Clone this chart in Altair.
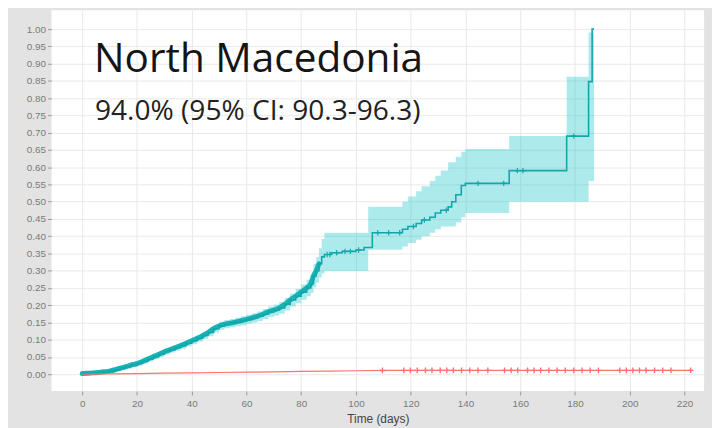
import altair as alt
import pandas as pd

# ---- data ----
title_text = "North Macedonia"
subtitle_text = "94.0% (95% CI: 90.3-96.3)"
x_title = "Time (days)"
x_ticks = [0, 20, 40, 60, 80, 100, 120, 140, 160, 180, 200, 220]
y_ticks = [0.0, 0.05, 0.10, 0.15, 0.20, 0.25, 0.30, 0.35, 0.40, 0.45, 0.50,
           0.55, 0.60, 0.65, 0.70, 0.75, 0.80, 0.85, 0.90, 0.95, 1.00]

cy_day = [0, 2, 4, 6, 8, 10, 12, 14, 16, 18, 20, 22, 24, 26, 28, 30, 32, 34, 36, 38,
          40, 42, 44, 46, 48, 50, 52, 54, 56, 58, 60, 62, 64, 66, 68, 70, 72, 74, 76, 78,
          80, 82, 83.5, 84.5, 85.5, 86.5, 87.5, 88.5, 91, 95, 100, 103, 104.5, 106, 117,
          119, 122, 124, 127, 129, 131, 133.7, 135, 136.5, 138.5, 140, 156, 177, 185,
          186.3, 187]
cy_est = [0.002, 0.003, 0.004, 0.005, 0.007, 0.009, 0.013, 0.018, 0.022, 0.027, 0.031,
          0.037, 0.044, 0.051, 0.058, 0.065, 0.071, 0.077, 0.083, 0.090, 0.097, 0.104,
          0.112, 0.121, 0.132, 0.140, 0.145, 0.148, 0.151, 0.155, 0.159, 0.163, 0.168,
          0.174, 0.181, 0.186, 0.192, 0.203, 0.215, 0.226, 0.238, 0.250, 0.262, 0.285,
          0.300, 0.320, 0.340, 0.347, 0.352, 0.356, 0.360, 0.367, 0.367, 0.410, 0.420,
          0.428, 0.437, 0.447, 0.455, 0.467, 0.475, 0.485, 0.500, 0.520, 0.547, 0.553,
          0.590, 0.690, 0.848, 1.000, 1.000]
cy_lo = [0.000, 0.000, 0.001, 0.002, 0.003, 0.005, 0.008, 0.012, 0.016, 0.021, 0.025,
         0.030, 0.037, 0.044, 0.050, 0.057, 0.063, 0.068, 0.074, 0.081, 0.087, 0.094,
         0.102, 0.110, 0.121, 0.129, 0.133, 0.136, 0.139, 0.142, 0.146, 0.150, 0.154,
         0.160, 0.166, 0.170, 0.175, 0.185, 0.196, 0.206, 0.216, 0.226, 0.236, 0.252,
         0.265, 0.280, 0.292, 0.299, 0.299, 0.299, 0.299, 0.299, 0.361, 0.361, 0.370,
         0.380, 0.390, 0.400, 0.410, 0.420, 0.428, 0.428, 0.428, 0.440, 0.455, 0.467,
         0.500, 0.500, 0.560, 0.560, 0.560]
cy_hi = [0.005, 0.006, 0.007, 0.009, 0.011, 0.013, 0.018, 0.023, 0.028, 0.033, 0.038,
         0.044, 0.051, 0.058, 0.066, 0.073, 0.079, 0.086, 0.092, 0.099, 0.107, 0.114,
         0.122, 0.132, 0.143, 0.152, 0.157, 0.160, 0.164, 0.168, 0.172, 0.177, 0.182,
         0.189, 0.196, 0.202, 0.209, 0.221, 0.234, 0.247, 0.260, 0.274, 0.290, 0.320,
         0.340, 0.365, 0.392, 0.410, 0.410, 0.410, 0.410, 0.410, 0.485, 0.485, 0.500,
         0.515, 0.530, 0.545, 0.560, 0.575, 0.590, 0.614, 0.614, 0.630, 0.645, 0.653,
         0.690, 0.862, 0.990, 0.990, 0.990]
cy_censor = [89.5, 90.5, 93, 96, 98, 101, 108, 112, 116, 121, 125, 133, 144.6, 154,
             159, 161, 179.6]

rd_day = [0, 10, 20, 30, 40, 50, 60, 70, 80, 90, 100, 110, 223]
rd_est = [0.0, 0.001, 0.002, 0.003, 0.004, 0.005, 0.006, 0.007, 0.008, 0.009, 0.010,
          0.011, 0.011]
rd_censor = [109.7, 117.5, 119.9, 122.4, 125.4, 127.8, 130.8, 133.2, 135.6, 138.6,
             141.6, 144.6, 148.2, 154.3, 156.7, 159.1, 162.7, 165.1, 167.5, 170.5,
             173.5, 176.5, 179.6, 182.6, 185.6, 188.6, 196.4, 198.8, 201.2, 203.6,
             206.0, 209.1, 212.1, 215.1, 222.3]

# ---- tables ----
cy = pd.DataFrame({"day": cy_day, "est": cy_est, "lo": cy_lo, "hi": cy_hi})


def step_value(days, vals, d):
    v = vals[0]
    for dd, vv in zip(days, vals):
        if dd <= d:
            v = vv
    return v


def lin_value(days, vals, d):
    for i in range(len(days) - 1):
        if days[i] <= d <= days[i + 1]:
            t = (d - days[i]) / (days[i + 1] - days[i])
            return vals[i] + t * (vals[i + 1] - vals[i])
    return vals[-1]


cyc = pd.DataFrame({"day": cy_censor,
                    "est": [step_value(cy_day, cy_est, d) for d in cy_censor]})
rd = pd.DataFrame({"day": rd_day, "est": rd_est})
rdc = pd.DataFrame({"day": rd_censor,
                    "est": [lin_value(rd_day, rd_est, d) for d in rd_censor]})
txt = pd.DataFrame({"t": [title_text], "s": [subtitle_text]})

CYAN = "#00BFC4"
CYAN_LINE = "#14A6A9"
RED = "#F8766D"
PLUS = "M-1,0H1M0,-1V1"

xs = alt.Scale(domain=[-11.2, 227.2], nice=False, zero=False)
ys = alt.Scale(domain=[-0.0487, 1.0544], nice=False, zero=False)

X = alt.X("day:Q", scale=xs, axis=alt.Axis(values=x_ticks, title=x_title, format="d"))
Y = alt.Y("est:Q", scale=ys, axis=alt.Axis(values=y_ticks, title=None, format=".2f"))

band = alt.Chart(cy).mark_area(interpolate="step-after", color=CYAN, opacity=0.32).encode(
    x=X, y=alt.Y("lo:Q", scale=ys, axis=alt.Axis(values=y_ticks, title=None, format=".2f")),
    y2="hi:Q")

thick = alt.Chart(cy).transform_filter("datum.day <= 86.5").mark_line(
    interpolate="monotone", color="#17B2B5", strokeWidth=5, strokeCap="round",
    strokeJoin="round").encode(x=X, y=Y)

line = alt.Chart(cy).mark_line(interpolate="step-after", color=CYAN_LINE,
                               strokeWidth=1.6).encode(x=X, y=Y)

cmarks = alt.Chart(cyc).mark_point(shape=PLUS, filled=False, color=CYAN_LINE,
                                   size=30, strokeWidth=1.2, opacity=1).encode(x=X, y=Y)

red = alt.Chart(rd).mark_line(color=RED, strokeWidth=1.2).encode(x=X, y=Y)

rmarks = alt.Chart(rdc).mark_point(shape=PLUS, filled=False, color=RED,
                                   size=34, strokeWidth=1.4, opacity=1).encode(x=X, y=Y)

t1 = alt.Chart(txt).mark_text(font="Open Sans", fontSize=41, color="#151515",
                              align="left", baseline="alphabetic").encode(
    x=alt.value(43), y=alt.value(62), text="t:N")
t2 = alt.Chart(txt).mark_text(font="Open Sans", fontSize=28.4, color="#222222",
                              align="left", baseline="alphabetic").encode(
    x=alt.value(44), y=alt.value(111), text="s:N")

chart = alt.layer(band, thick, line, cmarks, red, rmarks, t1, t2).properties(
    width=660, height=385,
    autosize=alt.AutoSizeParams(type="none"),
    padding={"left": 44, "top": 0, "right": 8, "bottom": 35},
    background="#e3e3e3",
).configure_view(fill="white", stroke=None).configure_axis(
    grid=True, gridColor="#e9e9e9", gridWidth=1, domain=False,
    tickColor="#9a9a9a", tickSize=4, labelColor="#7a7a7a", labelFontSize=10,
    labelFont="Liberation Sans", titleFont="Liberation Sans", titleFontSize=12,
    titleFontWeight="normal", titleColor="#444444",
).configure_axisX(labelPadding=4, titlePadding=5).configure_axisY(labelPadding=2)

chart.save("out.html", embed_options={"renderer": "svg", "actions": False})
